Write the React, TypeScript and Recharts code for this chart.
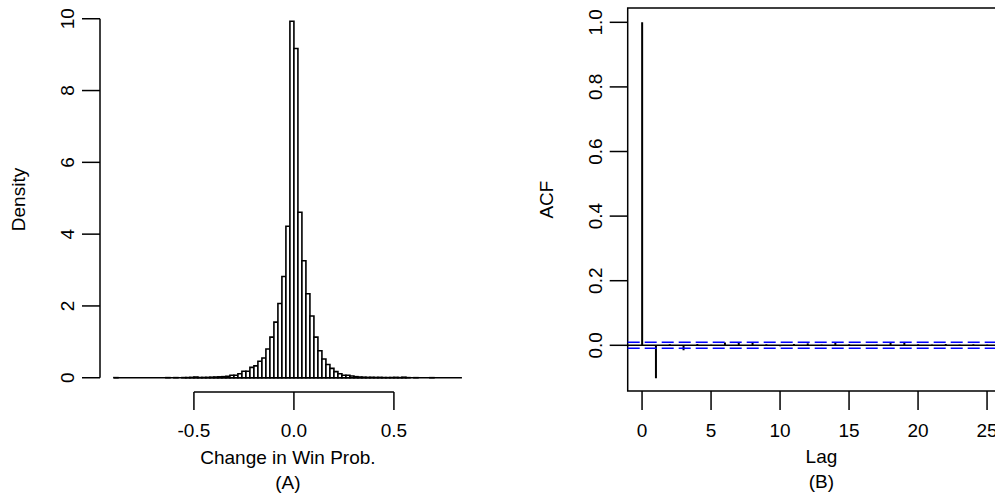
import React from "react";
import {
  ComposedChart,
  Bar,
  XAxis,
  YAxis,
  ReferenceLine,
  ReferenceArea,
} from "recharts";

const FONT = "'Liberation Sans', Arial, sans-serif";
const FONT_SIZE = 19;

// histogram of change in win probability (bins of 0.02 from -0.90 to 0.84)
const histStart = -0.9;
const binWidth = 0.02;
const density = [
  0.003, 0, 0, 0, 0, 0, 0, 0, 0, 0, 0, 0, 0, 0.003, 0, 0.003, 0, 0.004, 0.005, 0.01,
  0.02, 0.006, 0.008, 0.01, 0.015, 0.02, 0.025, 0.03, 0.04, 0.07, 0.07, 0.11, 0.18, 0.18,
  0.29, 0.33, 0.46, 0.55, 0.8, 1.13, 1.55, 2.07, 2.82, 4.22, 9.93, 9.17, 4.61, 3.26, 2.34,
  1.72, 1.13, 0.75, 0.52, 0.37, 0.26, 0.17, 0.11, 0.07, 0.07, 0.05, 0.03, 0.02, 0.015,
  0.01, 0.012, 0.008, 0.01, 0.005, 0.004, 0.006, 0.01, 0.004, 0.015, 0.003, 0, 0.002, 0,
  0, 0, 0.002, 0, 0, 0, 0, 0, 0, 0,
];
const histXTicks = [-0.5, 0, 0.5];
const histYTicks = [0, 2, 4, 6, 8, 10];

// autocorrelation by lag
const lags = [
  0, 1, 2, 3, 4, 5, 6, 7, 8, 9, 10, 11, 12, 13, 14, 15, 16, 17, 18, 19, 20, 21, 22, 23, 24,
  25, 26,
];
const acfValues = [
  1, -0.102, 0.003, -0.015, 0.004, 0.002, 0.009, 0.01, 0.009, 0.003, -0.003, 0.004, 0.006,
  0.002, 0.008, 0.003, -0.002, 0.002, 0.007, 0.008, 0.003, 0.002, 0.004, 0.002, 0.003, 0.002,
  0.001,
];
const acfCi = 0.0093;
const acfXTicks = [0, 5, 10, 15, 20, 25];
const acfYTicks = [0, 0.2, 0.4, 0.6, 0.8, 1.0];

const histData = density.map((d, i) => ({
  bin: i,
  mid: histStart + binWidth * (i + 0.5),
  density: d,
}));
const histEnd = histStart + binWidth * density.length;
const histPad = (histEnd - histStart) * 0.04;
const histXDomain = [histStart - histPad, histEnd + histPad];
const histYMax = Math.max(...density);
const histYDomain = [-histYMax * 0.04, histYMax * 1.04];

const acfData = lags.map((lag, i) => ({ lag, acf: acfValues[i] }));

const textStyle = { fontFamily: FONT, fontSize: FONT_SIZE, fill: "#000" };

const XTick = ({ x, y, payload, fmt }: any) => (
  <text x={x} y={y + 25} textAnchor="middle" {...textStyle}>
    {fmt(payload.value)}
  </text>
);

const YTick = ({ x, y, payload, fmt }: any) => (
  <text
    x={x}
    y={y}
    transform={`rotate(-90, ${x}, ${y})`}
    textAnchor="middle"
    {...textStyle}
  >
    {fmt(payload.value)}
  </text>
);

const XTitle = ({ viewBox, lines }: any) => {
  const cx = viewBox.x + viewBox.width / 2;
  return (
    <g>
      <text x={cx} y={viewBox.y + 72} textAnchor="middle" {...textStyle}>
        {lines[0]}
      </text>
      <text x={cx} y={viewBox.y + 97} textAnchor="middle" {...textStyle}>
        {lines[1]}
      </text>
    </g>
  );
};

const YTitle = ({ viewBox, value }: any) => {
  const bx = viewBox.x + viewBox.width - 75;
  const cy = viewBox.y + viewBox.height / 2;
  return (
    <text
      x={bx}
      y={cy}
      transform={`rotate(-90, ${bx}, ${cy})`}
      textAnchor="middle"
      {...textStyle}
    >
      {value}
    </text>
  );
};

const line = { stroke: "#000", strokeWidth: 1.5 };

function HistPanel() {
  return (
    <ComposedChart
      width={520}
      height={496}
      data={histData}
      margin={{ top: 7, right: 44.16, bottom: 0, left: 40 }}
      barCategoryGap={0}
      barGap={0}
    >
      <XAxis
        xAxisId="bins"
        dataKey="bin"
        type="category"
        orientation="top"
        hide
        padding={{ left: 13.9, right: 13.9 }}
      />
      <XAxis
        xAxisId="num"
        dataKey="mid"
        type="number"
        domain={histXDomain}
        allowDataOverflow
        ticks={histXTicks}
        axisLine={false}
        stroke="#000"
        tickLine={line}
        tickSize={18}
        height={104}
        tick={<XTick fmt={(v: number) => v.toFixed(1)} />}
        label={<XTitle lines={["Change in Win Prob.", "(A)"]} />}
      />
      <YAxis
        domain={histYDomain}
        allowDataOverflow
        ticks={histYTicks}
        width={60}
        axisLine={false}
        stroke="#000"
        tickLine={line}
        tickSize={18}
        tickMargin={8}
        tick={<YTick fmt={(v: number) => String(v)} />}
        label={<YTitle value="Density" />}
      />
      <Bar
        xAxisId="bins"
        dataKey="density"
        fill="#fff"
        stroke="#000"
        strokeWidth={1.6}
        isAnimationActive={false}
      />
      <ReferenceLine
        xAxisId="num"
        segment={[{ x: histStart, y: 0 }, { x: histEnd, y: 0 }]}
        ifOverflow="visible"
        {...line}
      />
      <ReferenceLine
        xAxisId="num"
        segment={[{ x: -0.5, y: histYDomain[0] }, { x: 0.5, y: histYDomain[0] }]}
        ifOverflow="visible"
        {...line}
      />
      <ReferenceLine
        xAxisId="num"
        segment={[{ x: histXDomain[0], y: 0 }, { x: histXDomain[0], y: 10 }]}
        ifOverflow="visible"
        {...line}
      />
    </ComposedChart>
  );
}

function AcfPanel() {
  const xDomain = [-1.04, 27.04];
  const yDomain = [-0.1415, 1.044];
  return (
    <ComposedChart
      width={520}
      height={496}
      data={acfData}
      margin={{ top: 8.1, right: 24.8, bottom: 0, left: 47.7 }}
    >
      <XAxis
        dataKey="lag"
        type="number"
        domain={xDomain}
        allowDataOverflow
        ticks={acfXTicks}
        axisLine={false}
        stroke="#000"
        tickLine={line}
        tickSize={19}
        height={105}
        tick={<XTick fmt={(v: number) => String(v)} />}
        label={<XTitle lines={["Lag", "(B)"]} />}
      />
      <YAxis
        domain={yDomain}
        allowDataOverflow
        ticks={acfYTicks}
        width={60}
        axisLine={false}
        stroke="#000"
        tickLine={line}
        tickSize={18}
        tickMargin={8}
        tick={<YTick fmt={(v: number) => v.toFixed(1)} />}
        label={<YTitle value="ACF" />}
      />
      <ReferenceArea
        x1={xDomain[0]}
        x2={xDomain[1]}
        y1={yDomain[0]}
        y2={yDomain[1]}
        fill="none"
        fillOpacity={0}
        ifOverflow="visible"
        {...line}
      />
      <ReferenceLine y={0} {...line} />
      <ReferenceLine y={acfCi} stroke="#0000ff" strokeWidth={1.5} strokeDasharray="12 5" />
      <ReferenceLine y={-acfCi} stroke="#0000ff" strokeWidth={1.5} strokeDasharray="12 5" />
      <Bar dataKey="acf" barSize={2} fill="#000" isAnimationActive={false} />
    </ComposedChart>
  );
}

export default function App() {
  return (
    <div
      style={{
        position: "absolute",
        left: 0,
        top: 0,
        width: 995,
        height: 496,
        overflow: "hidden",
        background: "#fff",
      }}
    >
      <div style={{ position: "absolute", left: 0, top: 0 }}>
        <HistPanel />
      </div>
      <div style={{ position: "absolute", left: 520, top: 0 }}>
        <AcfPanel />
      </div>
    </div>
  );
}
